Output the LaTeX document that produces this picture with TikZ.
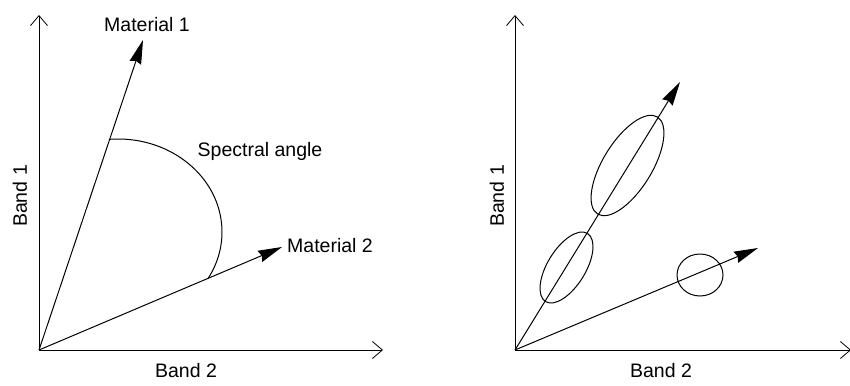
\documentclass[tikz,border=0pt]{standalone}
\usepackage{fontspec}
\setmainfont{Liberation Sans}
\usetikzlibrary{arrows.meta,shapes.geometric}
\begin{document}
\begin{tikzpicture}[x=1pt,y=-1pt,
  axis/.style={line width=0.8pt,-{Straight Barb[length=10pt,width=17pt,line width=0.8pt]}},
  vec/.style={line width=1pt,-{Stealth[length=24pt,width=12pt,inset=2pt]}},
  lbl/.style={font=\fontsize{19.5}{21}\selectfont,inner sep=0pt},
  blob/.style={line width=1pt}]
\useasboundingbox (0,0) rectangle (850,385);
% left panel
\coordinate (O1) at (39,350);
\coordinate (Y1) at (39,15);
\coordinate (X1) at (383,350);
\coordinate (M1) at (143,40);
\coordinate (M2) at (282,247);
\draw[axis] (O1) -- (Y1);
\draw[axis] (O1) -- (X1);
\draw[vec] (O1) -- (M1);
\draw[vec] (O1) -- (M2);
\draw[blob] (118,232) ++(-95:104 and 93) arc[start angle=-95,end angle=30,x radius=104,y radius=93];
\node[lbl] (m1) at (147,25) {Material 1};
\node[lbl,anchor=west] (m2) at (287,246) {Material 2};
\node[lbl] (sa) at (260,151) {Spectral angle};
\node[lbl,rotate=90] (b1l) at (20,196) {Band 1};
\node[lbl] (b2l) at (186,371) {Band 2};
% right panel
\coordinate (O2) at (515,350);
\coordinate (Y2) at (515,15);
\coordinate (X2) at (851,350);
\coordinate (T1) at (680,82);
\coordinate (T2) at (758,248);
\draw[axis] (O2) -- (Y2);
\draw[axis] (O2) -- (X2);
\draw[vec] (O2) -- (T1);
\draw[vec] (O2) -- (T2);
\node[blob,draw,ellipse,minimum width=114pt,minimum height=49pt,inner sep=0pt,rotate=58.4] (e1) at (627.5,165.5) {};
\node[blob,draw,ellipse,minimum width=80pt,minimum height=38pt,inner sep=0pt,rotate=58.4] (e2) at (566.5,267.5) {};
\node[blob,draw,ellipse,minimum width=46pt,minimum height=42pt,inner sep=0pt] (c1) at (700,275) {};
\node[lbl,rotate=90] (b1r) at (497,196) {Band 1};
\node[lbl] (b2r) at (661,371) {Band 2};
\end{tikzpicture}
\end{document}
